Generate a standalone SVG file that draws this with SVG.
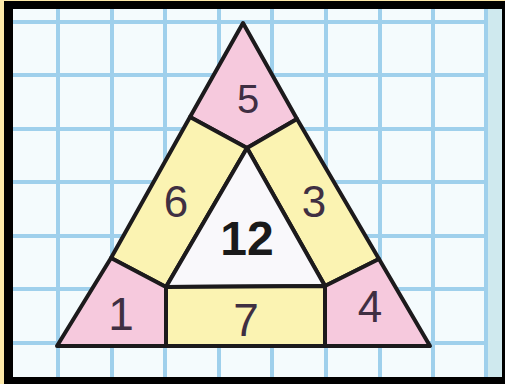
<svg xmlns="http://www.w3.org/2000/svg" width="505" height="384" viewBox="0 0 505 384">
<style>
.grid{stroke:#9fd0ec;stroke-width:4;fill:none}
.edge{stroke:#1c1a1c;stroke-width:4;stroke-linejoin:round}
.pink{fill:#f6c9dd}
.yel{fill:#fbf3b2}
.wht{fill:#f9f8fb}
.num{font-family:"Liberation Sans","DejaVu Sans",sans-serif;text-anchor:middle;fill:#3f2f42}
.big{font-weight:bold;fill:#1a1a1a}
</style>
<rect x="0" y="0" width="505" height="384" fill="#fde9a8"/>
<rect x="4" y="1" width="501" height="383" fill="#000"/>
<rect x="13" y="9" width="489" height="368" fill="#f4fbfd"/>
<rect x="487" y="9" width="15" height="368" fill="#cfe9ee"/>
<g id="grid" class="grid">
<path d="M58 9V377M112 9V377M165 9V377M219 9V377M272 9V377M326 9V377M380 9V377M433 9V377M486 9V377"/>
<path d="M13 22H487M13 75H487M13 129H487M13 182H487M13 236H487M13 289H487M13 343H487"/>
</g>
<g id="top-corner"><polygon class="pink edge" points="243,23 297,119 247,148 190,117"/><text class="num" x="248" y="113" font-size="40">5</text></g>
<g id="left-band"><polygon class="yel edge" points="190,117 247,148 166,287 111,258"/><text class="num" x="176" y="217" font-size="44">6</text></g>
<g id="right-band"><polygon class="yel edge" points="297,119 379,259 325,286 247,148"/><text class="num" x="314" y="217" font-size="44">3</text></g>
<g id="center"><polygon class="wht edge" points="247,148 325,286 166,287"/><text class="num big" x="247" y="255" font-size="48">12</text></g>
<g id="bottom-left"><polygon class="pink edge" points="111,258 166,287 166,346 57,346"/><text class="num" x="121" y="330" font-size="46">1</text></g>
<g id="bottom-band"><polygon class="yel edge" points="166,287 325,286 325,346 166,346"/><text class="num" x="246" y="336" font-size="46">7</text></g>
<g id="bottom-right"><polygon class="pink edge" points="325,286 379,259 430,346 325,346"/><text class="num" x="370" y="322" font-size="44">4</text></g>
</svg>
